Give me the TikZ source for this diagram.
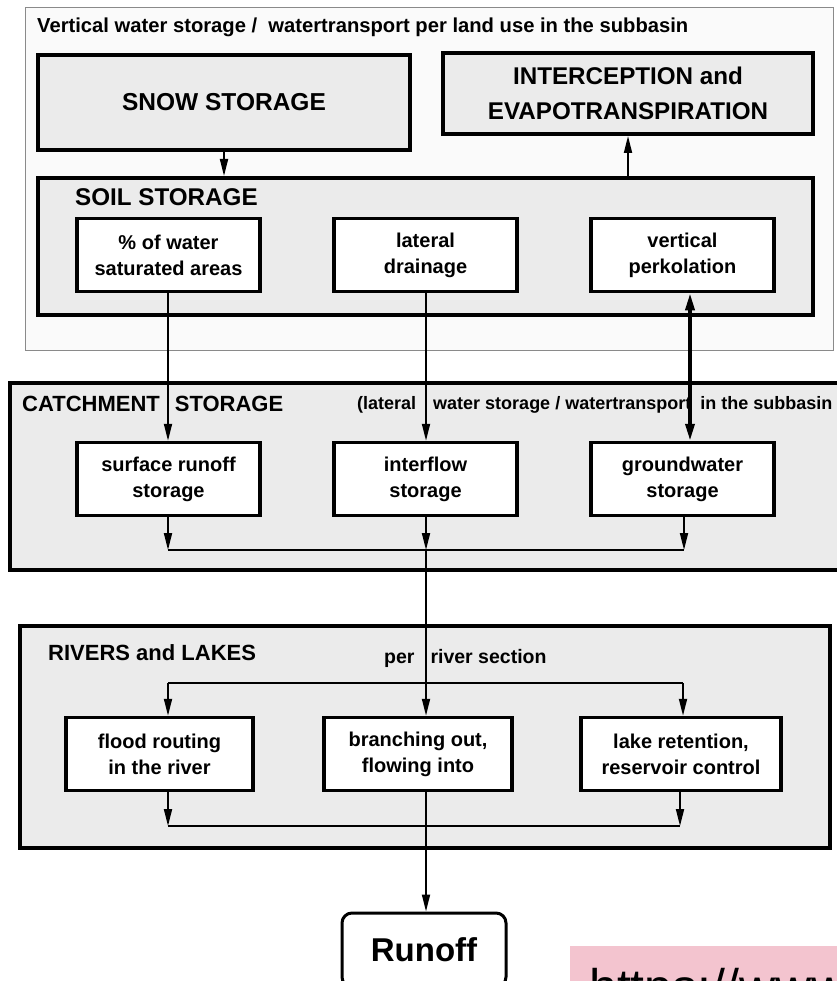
\documentclass[tikz,border=0pt]{standalone}
\usepackage{fontspec}
\setmainfont{Liberation Sans}
\usetikzlibrary{arrows.meta}
\definecolor{boxgray}{HTML}{EBEBEB}
\definecolor{outerfill}{HTML}{FAFAFA}
\definecolor{outerline}{HTML}{8A8A8A}
\definecolor{pinkbg}{HTML}{F3C4CF}
\tikzset{
  bigbox/.style={draw=black, line width=4pt, fill=boxgray, inner sep=0pt, align=center},
  innerbox/.style={draw=black, line width=3.5pt, fill=white, minimum width=183pt, minimum height=73pt,
     inner sep=0pt, align=center, font=\fontsize{20}{26}\selectfont\bfseries},
  headline/.style={anchor=west, inner sep=0pt, font=\fontsize{23}{26}\selectfont\bfseries},
  arr/.style={line width=1.8pt, -{Triangle[length=17pt,width=8pt]}},
  plain/.style={line width=1.8pt},
  darr/.style={line width=3.5pt, {Triangle[length=17pt,width=9pt]}-{Triangle[length=17pt,width=9pt]}},
}
\begin{document}
\begin{tikzpicture}[x=1pt,y=-1pt]
\useasboundingbox (0,0) rectangle (836,981);
% outer land-use box
\draw[draw=outerline, line width=1pt, fill=outerfill] (25,8) rectangle (833,350);
\node[anchor=west, inner sep=0pt, font=\fontsize{20.2}{23}\selectfont\bfseries] (title) at (37,27)
  {Vertical water storage /\ \ watertransport per land use in the subbasin};
% top boxes
\node[bigbox, minimum width=372pt, minimum height=95pt, font=\fontsize{24.5}{28}\selectfont\bfseries] (snow) at (224,102.5) {SNOW STORAGE};
\node[bigbox, minimum width=370pt, minimum height=81pt, font=\fontsize{24.2}{35}\selectfont\bfseries] (inter) at (628,93.5) {INTERCEPTION and\\EVAPOTRANSPIRATION};
% soil storage
\node[bigbox, minimum width=775pt, minimum height=137pt] (soil) at (425.5,246.5) {};
\node[headline, font=\fontsize{24.2}{26}\selectfont\bfseries] (soillbl) at (75,197) {SOIL STORAGE};
\node[innerbox] (sat) at (168.5,255) {\% of water\\saturated areas};
\node[innerbox] (lat) at (425.5,255) {lateral\\drainage};
\node[innerbox] (perk) at (682.5,255) {vertical\\perkolation};
% catchment storage
\node[bigbox, minimum width=836pt, minimum height=187pt] (catch) at (428,476.5) {};
\node[headline, font=\fontsize{22}{26}\selectfont\bfseries] (catchlbl) at (22,404) {CATCHMENT\hspace{15pt}STORAGE};
\node[anchor=west, inner sep=0pt, font=\fontsize{18}{20}\selectfont\bfseries] (latnote) at (357,405)
  {(lateral\hspace{17pt}water storage / watertransport\hspace{9pt}in the subbasin};
\node[innerbox] (surf) at (168.5,479) {surface runoff\\storage};
\node[innerbox] (ifl) at (425.5,479) {interflow\\storage};
\node[innerbox] (gw) at (682.5,479) {groundwater\\storage};
% rivers and lakes
\node[bigbox, minimum width=810pt, minimum height=222pt] (rivers) at (425,737) {};
\node[headline, font=\fontsize{22}{26}\selectfont\bfseries] (riverlbl) at (48,653) {RIVERS and LAKES};
\node[anchor=west, inner sep=0pt, font=\fontsize{19.5}{22}\selectfont\bfseries] (perriver) at (384,658) {per\hspace{16pt}river section};
\node[innerbox, minimum width=187pt] (flood) at (159.5,754) {flood routing\\in the river};
\node[innerbox, minimum width=188pt] (branch) at (418,754) {branching out,\\flowing into};
\node[innerbox, minimum width=200pt] (lake) at (681,754) {lake retention,\\reservoir control};
% runoff
\node[draw=black, line width=3pt, rounded corners=10pt, fill=white, minimum width=164pt, minimum height=74pt,
  inner sep=0pt, font=\fontsize{33}{36}\selectfont\bfseries] (runoff) at (424,950) {Runoff};
% pink strip
\fill[pinkbg] (570,946) rectangle (840,990);
\node[anchor=base west, inner sep=0pt, font=\fontsize{50}{55}\selectfont] (url) at (589,1004) {https://www};
% coordinates
\coordinate (cL) at (168,550); \coordinate (cM) at (426,550); \coordinate (cR) at (684,550);
\coordinate (pk) at (690,300);
\coordinate (rtL) at (168,683); \coordinate (rtR) at (683,683);
\coordinate (rbL) at (168,826); \coordinate (rbM) at (426,826); \coordinate (rbR) at (680,826);
% connectors, top part
\draw[arr] (snow.south) -- (snow.south |- soil.north);
\draw[arr] (inter.south |- soil.north) -- (inter.south);
\draw[arr] (cL |- sat.south) -- (cL |- surf.north);
\draw[arr] (cM |- lat.south) -- (cM |- ifl.north);
\draw[darr] (pk |- perk.south) -- (pk |- gw.north);
% catchment collection
\draw[arr] (cL |- surf.south) -- (cL);
\draw[arr] (cM |- ifl.south) -- (cM);
\draw[arr] (cR |- gw.south) -- (cR);
\draw[plain] (cL) -- (cR);
\draw[arr] (cM) -- (cM |- branch.north);
% rivers distribution
\draw[plain] (rtL) -- (rtR);
\draw[arr] (rtL) -- (rtL |- flood.north);
\draw[arr] (rtR) -- (rtR |- lake.north);
\draw[arr] (rbL |- flood.south) -- (rbL);
\draw[arr] (rbR |- lake.south) -- (rbR);
\draw[plain] (rbL) -- (rbR);
\draw[arr] (rbM |- branch.south) -- (rbM |- runoff.north);
\end{tikzpicture}
\end{document}
